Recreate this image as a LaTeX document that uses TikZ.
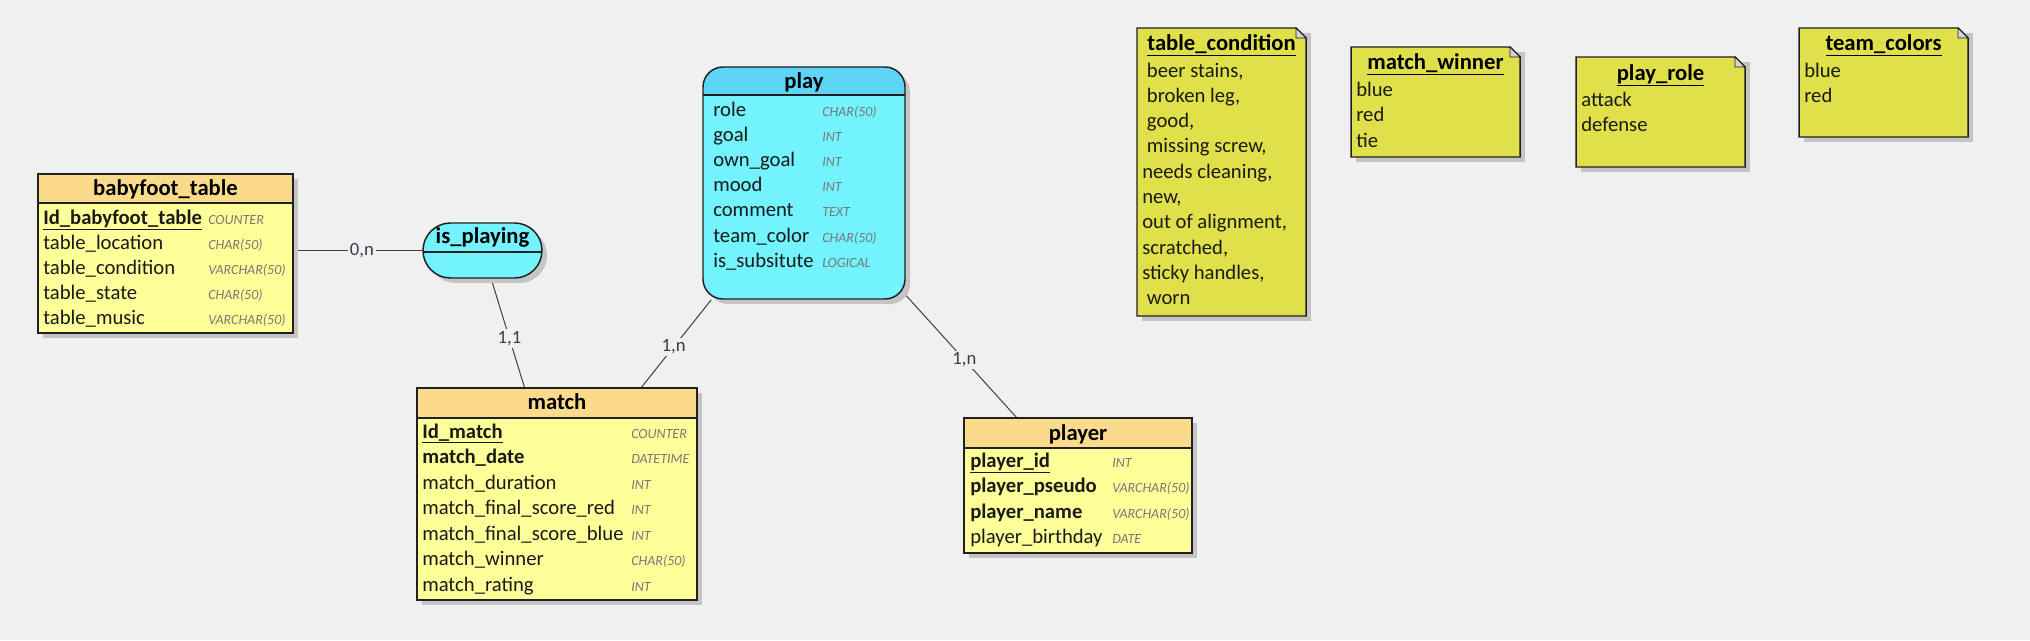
\documentclass[tikz,border=0pt]{standalone}
\usepackage{fontspec}
\setmainfont{Carlito}
\usetikzlibrary{fit}

\definecolor{bgcol}{HTML}{F0F0F0}
\definecolor{entheadcol}{HTML}{FADB8C}
\definecolor{entbodycol}{HTML}{FFFF99}
\definecolor{assocheadcol}{HTML}{5CD5F6}
\definecolor{assocbodycol}{HTML}{72F3FE}
\definecolor{notecol}{HTML}{E0E04A}
\definecolor{foldcol}{HTML}{D4D4D4}
\definecolor{shadowcol}{HTML}{C4C4C4}
\definecolor{linecol}{HTML}{202020}
\definecolor{conncol}{HTML}{404040}
\definecolor{cardcol}{HTML}{3A3A4A}
\definecolor{typecol}{HTML}{787878}
\definecolor{textcol}{HTML}{1A1A1A}

\newcommand{\erField}{\fontsize{15.5}{18}\selectfont}
\newcommand{\erType}{\fontsize{10.5}{12}\selectfont\itshape}
\newcommand{\erTitle}{\fontsize{17}{20}\selectfont\bfseries}
\newcommand{\erCard}{\fontsize{14}{16}\selectfont}

\pgfdeclarelayer{background}
\pgfsetlayers{background,main}

\tikzset{every picture/.style={line width=0.75pt}}

\begin{document}
\begin{tikzpicture}[x=0.75pt,y=0.75pt,yscale=-1,xscale=1,
  field/.style={anchor=base west, inner sep=0pt, font=\erField, text=textcol},
  ftype/.style={anchor=base west, inner sep=0pt, font=\erType, text=typecol},
  boxtitle/.style={anchor=base, inner sep=0pt, font=\erTitle, text=black},
  card/.style={fill=bgcol, inner sep=1.5pt, font=\erCard, text=cardcol},
  conn/.style={draw=conncol, line width=0.75pt},
  entbody/.style={draw=linecol, fill=entbodycol, line width=1.1pt, inner sep=0pt},
  enthead/.style={draw=linecol, fill=entheadcol, line width=1.1pt},
  notebox/.style={draw=linecol, fill=notecol, line width=1.1pt},
  notefold/.style={draw=linecol, fill=foldcol, line width=0.6pt}]
	%set diagram: 2030 x 640
	\useasboundingbox (0,0) rectangle (2030,640);
	\begin{pgfonlayer}{background}
	\fill[bgcol] (0,0) rectangle (2030,640);
	\end{pgfonlayer}

	%Entity: babyfoot_table
	\fill[shadowcol] (43,179) rectangle (298,338);
	\node[entbody, fit={(38,174) (293,333)}] (babyfoot) {};
	\draw[enthead] (38,174) rectangle (293,203);
	\node[boxtitle] (babyfoot-t) at (165.5,195) {babyfoot\_table};
	\foreach \fname/\ftype [count=\i from 0] in {{\underline{\textbf{Id\_babyfoot\_table}}}/COUNTER, table\_location/CHAR(50), table\_condition/VARCHAR(50), table\_state/CHAR(50), table\_music/VARCHAR(50)}{
		\node[field] (babyfoot-f\i) at (43,224+25*\i) {\fname};
		\node[ftype] (babyfoot-y\i) at (208,224+25*\i) {\ftype};
	}

	%Association: is_playing
	\fill[shadowcol, rounded corners=20.6pt] (428,228) rectangle (547,283);
	\node[draw=linecol, fill=assocbodycol, line width=1.1pt, inner sep=0pt, rounded corners=20.6pt, fit={(423,223) (542,278)}] (isplaying) {};
	\draw[linecol, line width=1.1pt] (423.5,252) -- (541.5,252);
	\node[boxtitle] (isplaying-t) at (482.5,243) {is\_playing};

	%Association: play
	\fill[shadowcol, rounded corners=15pt] (708,72) rectangle (910,304);
	\fill[assocbodycol, rounded corners=15pt] (703,67) rectangle (905,299);
	\begin{scope}
		\clip[rounded corners=15pt] (703,67) rectangle (905,299);
		\fill[assocheadcol] (703,67) rectangle (905,95);
	\end{scope}
	\draw[linecol, line width=1.1pt] (703,95) -- (905,95);
	\node[draw=linecol, line width=1.1pt, inner sep=0pt, rounded corners=15pt, fit={(703,67) (905,299)}] (play) {};
	\node[boxtitle] (play-t) at (804,88) {play};
	\foreach \fname/\ftype [count=\i from 0] in {role/CHAR(50), goal/INT, own\_goal/INT, mood/INT, comment/TEXT, team\_color/CHAR(50), is\_subsitute/LOGICAL}{
		\node[field] (play-f\i) at (713,116+25.2*\i) {\fname};
		\node[ftype] (play-y\i) at (822,116+25.2*\i) {\ftype};
	}

	%Entity: match
	\fill[shadowcol] (422,393) rectangle (702,605);
	\node[entbody, fit={(417,388) (697,600)}] (match) {};
	\draw[enthead] (417,388) rectangle (697,418);
	\node[boxtitle] (match-t) at (557,409) {match};
	\foreach \fname/\ftype [count=\i from 0] in {{\underline{\textbf{Id\_match}}}/COUNTER, {\textbf{match\_date}}/DATETIME, match\_duration/INT, match\_final\_score\_red/INT, match\_final\_score\_blue/INT, match\_winner/CHAR(50), match\_rating/INT}{
		\node[field] (match-f\i) at (422,438+25.5*\i) {\fname};
		\node[ftype] (match-y\i) at (631,438+25.5*\i) {\ftype};
	}

	%Entity: player
	\fill[shadowcol] (969,423) rectangle (1197,558);
	\node[entbody, fit={(964,418) (1192,553)}] (player) {};
	\draw[enthead] (964,418) rectangle (1192,448);
	\node[boxtitle] (player-t) at (1078,440) {player};
	\foreach \fname/\ftype [count=\i from 0] in {{\underline{\textbf{player\_id}}}/INT, {\textbf{player\_pseudo}}/VARCHAR(50), {\textbf{player\_name}}/VARCHAR(50), player\_birthday/DATE}{
		\node[field] (player-f\i) at (970,467+25.6*\i) {\fname};
		\node[ftype] (player-y\i) at (1112,467+25.6*\i) {\ftype};
	}

	%Links
	\begin{pgfonlayer}{background}
	\draw[conn] (babyfoot.east |- isplaying.west) -- node[card, pos=0.53] (c-bt) {0,n} (isplaying.west);
	\draw[conn] (isplaying) -- node[card, pos=0.55] (c-im) {1,1} (match);
	\draw[conn] (play) -- node[card, pos=0.54] (c-pm) {1,n} (match);
	\draw[conn] (play) -- node[card, pos=0.53] (c-pp) {1,n} (player);
	\end{pgfonlayer}

	%Note: table_condition
	\fill[shadowcol] (1142,33) rectangle (1311,321);
	\filldraw[notebox] (1137,28) -- (1296,28) -- (1306,38) -- (1306,316) -- (1137,316) -- cycle;
	\filldraw[notefold] (1296,28) -- (1296,38) -- (1306,38) -- cycle;
	\node[boxtitle] (tablecond-t) at (1221.5,50) {\underline{table\_condition}};
	\foreach \item [count=\i from 0] in {{\ beer stains,}, {\ broken leg,}, {\ good,}, {\ missing screw,}, {needs cleaning,}, {new,}, {out of alignment,}, {scratched,}, {sticky handles,}, {\ worn}}{
		\node[field] (tablecond-\i) at (1142,77+25.3*\i) {\item};
	}

	%Note: match_winner
	\fill[shadowcol] (1356,52) rectangle (1525,162);
	\filldraw[notebox] (1351,47) -- (1510,47) -- (1520,57) -- (1520,157) -- (1351,157) -- cycle;
	\filldraw[notefold] (1510,47) -- (1510,57) -- (1520,57) -- cycle;
	\node[boxtitle] (matchwin-t) at (1435.5,69) {\underline{match\_winner}};
	\foreach \item [count=\i from 0] in {blue, red, tie}{
		\node[field] (matchwin-\i) at (1356,96+25.5*\i) {\item};
	}

	%Note: play_role
	\fill[shadowcol] (1581,62) rectangle (1750,172);
	\filldraw[notebox] (1576,57) -- (1735,57) -- (1745,67) -- (1745,167) -- (1576,167) -- cycle;
	\filldraw[notefold] (1735,57) -- (1735,67) -- (1745,67) -- cycle;
	\node[boxtitle] (playrole-t) at (1660.5,80) {\underline{play\_role}};
	\foreach \item [count=\i from 0] in {attack, defense}{
		\node[field] (playrole-\i) at (1581,106+25.5*\i) {\item};
	}

	%Note: team_colors
	\fill[shadowcol] (1804,33) rectangle (1973,142);
	\filldraw[notebox] (1799,28) -- (1958,28) -- (1968,38) -- (1968,137) -- (1799,137) -- cycle;
	\filldraw[notefold] (1958,28) -- (1958,38) -- (1968,38) -- cycle;
	\node[boxtitle] (teamcol-t) at (1883.5,50) {\underline{team\_colors}};
	\foreach \item [count=\i from 0] in {blue, red}{
		\node[field] (teamcol-\i) at (1804,77+25.5*\i) {\item};
	}

\end{tikzpicture}
\end{document}
